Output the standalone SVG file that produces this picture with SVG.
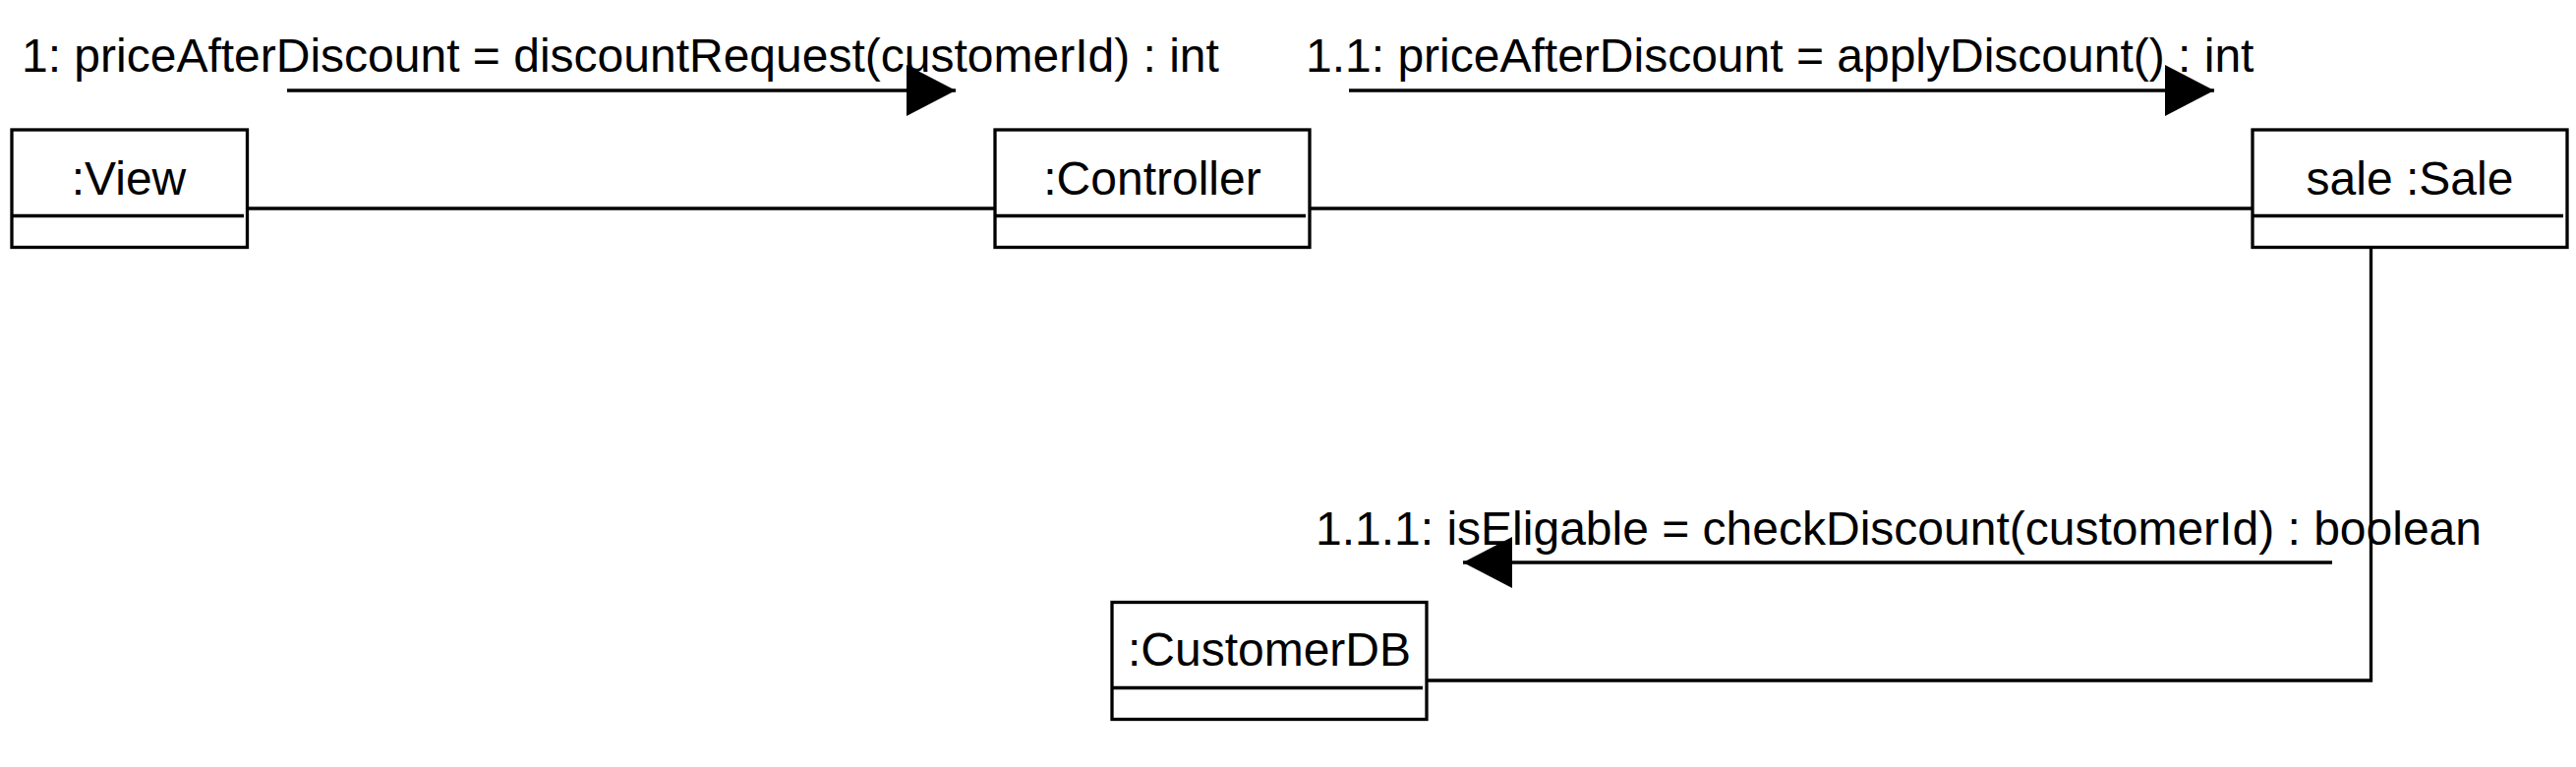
<svg xmlns="http://www.w3.org/2000/svg" width="2620" height="780" viewBox="0 0 2620 780">
<defs>
<style>
.box{fill:#fff;stroke:#000;stroke-width:3.3}
.div{stroke:#000;stroke-width:3.3}
.t{font-family:"Liberation Sans",Arial,sans-serif;font-size:48px;fill:#000}
.c{text-anchor:middle}
.ln{fill:none;stroke:#000;stroke-width:3.3}
.msg{fill:none;stroke:#000;stroke-width:3.3;marker-end:url(#ah)}
</style>
<marker id="ah" markerUnits="userSpaceOnUse" markerWidth="52" markerHeight="54" refX="50" refY="26" orient="auto">
<path d="M0,0 L50,26 L0,52 Z" fill="#000"/>
</marker>
</defs>
<rect width="2620" height="780" fill="#fff"/>
<g id="connectors">
<line class="ln" x1="251" y1="212" x2="1012" y2="212"/>
<line class="ln" x1="1332" y1="212" x2="2291" y2="212"/>
<path class="ln" d="M2411.5,251 V692 H1451"/>
</g>
<g id="view">
<rect class="box" x="12" y="132" width="239.5" height="119.5"/>
<line class="div" x1="12" y1="219.5" x2="248" y2="219.5"/>
<text class="t c" x="131" y="198">:View</text>
</g>
<g id="controller">
<rect class="box" x="1012" y="132" width="320" height="119.5"/>
<line class="div" x1="1012" y1="219.5" x2="1328" y2="219.5"/>
<text class="t c" x="1172" y="198">:Controller</text>
</g>
<g id="sale">
<rect class="box" x="2291" y="132" width="320" height="119.5"/>
<line class="div" x1="2291" y1="219.5" x2="2607" y2="219.5"/>
<text class="t c" x="2451" y="198">sale :Sale</text>
</g>
<g id="customerdb">
<rect class="box" x="1131" y="612.5" width="320" height="119"/>
<line class="div" x1="1131" y1="699.5" x2="1447" y2="699.5"/>
<text class="t c" x="1291" y="677">:CustomerDB</text>
</g>
<g id="messages">
<text class="t" x="22" y="73">1: priceAfterDiscount = discountRequest(customerId) : int</text>
<text class="t" x="1328" y="73">1.1: priceAfterDiscount = applyDiscount() : int</text>
<text class="t" x="1338" y="554">1.1.1: isEligable = checkDiscount(customerId) : boolean</text>
<line class="msg" x1="292" y1="92" x2="972" y2="92"/>
<line class="msg" x1="1372" y1="92" x2="2252" y2="92"/>
<line class="msg" x1="2372" y1="572" x2="1488" y2="572"/>
</g>
</svg>
